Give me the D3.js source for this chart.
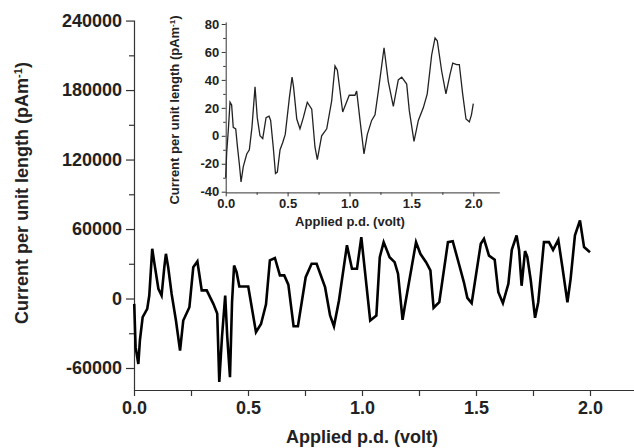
<!doctype html>
<html>
<head>
<meta charset="utf-8">
<title>Current vs applied p.d.</title>
<script src="https://cdnjs.cloudflare.com/ajax/libs/d3/7.8.5/d3.min.js"></script>
<style>
  body { margin: 0; background: #fff; }
  text { font-family: "Liberation Sans", Arial, sans-serif; font-weight: bold; fill: #222; }
</style>
</head>
<body>
<div id="chart"></div>
<script>
// main curve (volt, pA/m)
const mainVolts = [0.001, 0.007, 0.019, 0.026, 0.038, 0.058, 0.067, 0.080, 0.089, 0.107, 0.121, 0.133, 0.140, 0.150, 0.165, 0.184, 0.202, 0.216, 0.243, 0.260, 0.278, 0.297, 0.319, 0.348, 0.365, 0.374, 0.386, 0.400, 0.409, 0.421, 0.430, 0.439, 0.450, 0.462, 0.501, 0.535, 0.557, 0.579, 0.596, 0.618, 0.640, 0.659, 0.677, 0.700, 0.719, 0.753, 0.779, 0.801, 0.838, 0.860, 0.877, 0.899, 0.934, 0.956, 0.978, 0.997, 1.036, 1.063, 1.078, 1.095, 1.121, 1.143, 1.158, 1.178, 1.187, 1.237, 1.256, 1.281, 1.300, 1.314, 1.339, 1.377, 1.398, 1.425, 1.447, 1.462, 1.481, 1.521, 1.535, 1.557, 1.582, 1.598, 1.618, 1.642, 1.657, 1.678, 1.689, 1.700, 1.715, 1.725, 1.740, 1.759, 1.773, 1.798, 1.820, 1.838, 1.861, 1.879, 1.901, 1.915, 1.934, 1.956, 1.974, 2.000];
const mainCurrent = [-4600, -42000, -56500, -36000, -16000, -9000, 2600, 43000, 31000, 8400, 2600, 27000, 38600, 27000, 4000, -19000, -45000, -19000, -7500, 27000, 32000, 7000, 7000, -4600, -13000, -72000, -33000, 2600, -33000, -68000, -3200, 28500, 22700, 10400, 10400, -29000, -22000, -5000, 33000, 35000, 20000, 20000, 12000, -24000, -24000, 18400, 30000, 30000, 9800, -14700, -24000, -1700, 46000, 25700, 25700, 53000, -19000, -14700, 35700, 48700, 35700, 31400, 21400, -18400, -7500, 48700, 38600, 31400, 24200, -8000, -3200, 48700, 49500, 30000, 14000, 600, -4000, 47300, 51600, 37000, 33500, 5400, -4000, 12700, 42000, 54500, 41700, 11000, 41000, 36000, 16000, -16700, -3200, 48700, 48700, 42000, 50700, 27000, -3200, 17000, 54500, 67400, 44400, 40000];

// inset curve (volt, pA/m)
const insetVolts = [0.000, 0.008, 0.021, 0.035, 0.048, 0.061, 0.081, 0.094, 0.110, 0.124, 0.142, 0.170, 0.191, 0.212, 0.237, 0.255, 0.277, 0.299, 0.326, 0.350, 0.363, 0.384, 0.402, 0.417, 0.439, 0.460, 0.481, 0.514, 0.536, 0.548, 0.574, 0.600, 0.627, 0.659, 0.695, 0.721, 0.740, 0.775, 0.816, 0.856, 0.883, 0.902, 0.945, 0.998, 1.044, 1.058, 1.085, 1.117, 1.144, 1.179, 1.206, 1.233, 1.279, 1.313, 1.354, 1.394, 1.422, 1.462, 1.483, 1.521, 1.556, 1.596, 1.628, 1.664, 1.691, 1.709, 1.745, 1.779, 1.812, 1.834, 1.866, 1.887, 1.914, 1.941, 1.968, 1.985, 2.000];
const insetCurrent = [-30, -12, 4, 24, 22, 6, 5, -7, -20, -33, -22, -13, -10, 6, 35, 13, 0, -2, 13, 14, 11, -8, -27, -26, -10, -5, 1, 27, 42, 35, 12, 5, 13, 24, 19, -8, -17, 0, 5, 25, 50, 47, 17, 29, 29, 32, 11, -13, 1, 11, 15, 32, 63, 39, 21, 40, 42, 37, 18, -4, 11, 20, 30, 58, 70, 68, 46, 30, 44, 52, 51, 51, 30, 12, 10, 15, 23];

const mainYTicks = [-60000, 0, 60000, 120000, 180000, 240000];
const mainYMinor = [-30000, 30000, 90000, 150000, 210000];
const mainXTicks = [0, 0.5, 1.0, 1.5, 2.0];
const mainXMinor = [0.25, 0.75, 1.25, 1.75];
const insetYTicks = [-40, -20, 0, 20, 40, 60, 80];
const insetYMinor = [-30, -10, 10, 30, 50, 70];
const insetXTicks = [0, 0.5, 1.0, 1.5, 2.0];
const insetXMinor = [0.25, 0.75, 1.25, 1.75];

// plain hyphen for negatives, like the original figure
const intFmt = d => String(d);
const decFmt = d => d.toFixed(1);

const svg = d3.select('#chart')
  .append('svg')
  .attr('width', 634)
  .attr('height', 448);

// ---- main plot ----
const x = d3.scaleLinear().domain([0, 2.193]).range([134, 634]);
const y = d3.scaleLinear().domain([-79000, 240500]).range([390, 20]);

const gx = svg.append('g').attr('transform', 'translate(0,390)')
  .call(d3.axisBottom(x).tickValues(mainXTicks).tickFormat(decFmt).tickSize(6).tickPadding(5.7).tickSizeOuter(0));
svg.append('g').attr('transform', 'translate(0,390)')
  .call(d3.axisBottom(x).tickValues(mainXMinor).tickFormat('').tickSize(6).tickSizeOuter(0))
  .select('.domain').remove();

const gy = svg.append('g').attr('transform', 'translate(134,0)')
  .call(d3.axisLeft(y).tickValues(mainYTicks).tickFormat(intFmt).tickSize(8).tickPadding(4).tickSizeOuter(0));
svg.append('g').attr('transform', 'translate(134,0)')
  .call(d3.axisLeft(y).tickValues(mainYMinor).tickFormat('').tickSize(5).tickSizeOuter(0))
  .select('.domain').remove();

[gx, gy].forEach(g => g.selectAll('text').style('font-size', '18px'));
svg.selectAll('.domain, .tick line').attr('stroke', '#333').attr('stroke-width', 1.2);

const mainLine = d3.line()
  .x((d, i) => x(mainVolts[i]))
  .y((d, i) => y(mainCurrent[i]));

svg.append('path')
  .datum(mainCurrent)
  .attr('d', mainLine)
  .attr('fill', 'none')
  .attr('stroke', '#000')
  .attr('stroke-width', 2.6);

svg.append('text')
  .attr('x', 362).attr('y', 443)
  .attr('text-anchor', 'middle')
  .style('font-size', '18px')
  .text('Applied p.d. (volt)');

const yl = svg.append('text')
  .attr('transform', 'translate(28,193) rotate(-90)')
  .attr('text-anchor', 'middle')
  .style('font-size', '18px')
  .text('Current per unit length (pAm');
yl.append('tspan').attr('baseline-shift', 'super').style('font-size', '11px').text('-1');
yl.append('tspan').text(')');

// ---- inset ----
const ix = d3.scaleLinear().domain([0, 2.21]).range([225.7, 499.3]);
const iy = d3.scaleLinear().domain([-40.5, 81.5]).range([192.4, 21.9]);

const inset = svg.append('g');

const igx = inset.append('g').attr('transform', 'translate(0,192.4)')
  .call(d3.axisBottom(ix).tickValues(insetXTicks).tickFormat(decFmt).tickSize(4).tickPadding(2.4).tickSizeOuter(0));
inset.append('g').attr('transform', 'translate(0,192.4)')
  .call(d3.axisBottom(ix).tickValues(insetXMinor).tickFormat('').tickSize(2.5).tickSizeOuter(0))
  .select('.domain').remove();

const igy = inset.append('g').attr('transform', 'translate(225.7,0)')
  .call(d3.axisLeft(iy).tickValues(insetYTicks).tickFormat(intFmt).tickSize(4).tickPadding(2.5).tickSizeOuter(0));
inset.append('g').attr('transform', 'translate(225.7,0)')
  .call(d3.axisLeft(iy).tickValues(insetYMinor).tickFormat('').tickSize(2.5).tickSizeOuter(0))
  .select('.domain').remove();

[igx, igy].forEach(g => g.selectAll('text').style('font-size', '13px'));
inset.selectAll('.domain, .tick line').attr('stroke', '#333').attr('stroke-width', 1);

const insetLine = d3.line()
  .x((d, i) => ix(insetVolts[i]))
  .y((d, i) => iy(insetCurrent[i]));

inset.append('path')
  .datum(insetCurrent)
  .attr('d', insetLine)
  .attr('fill', 'none')
  .attr('stroke', '#222')
  .attr('stroke-width', 1.3);

inset.append('text')
  .attr('x', 350).attr('y', 226)
  .attr('text-anchor', 'middle')
  .style('font-size', '13px')
  .text('Applied p.d. (volt)');

const iyl = inset.append('text')
  .attr('transform', 'translate(179,110) rotate(-90)')
  .attr('text-anchor', 'middle')
  .style('font-size', '13px')
  .text('Current per unit length (pAm');
iyl.append('tspan').attr('baseline-shift', 'super').style('font-size', '8px').text('-1');
iyl.append('tspan').text(')');
</script>
</body>
</html>
